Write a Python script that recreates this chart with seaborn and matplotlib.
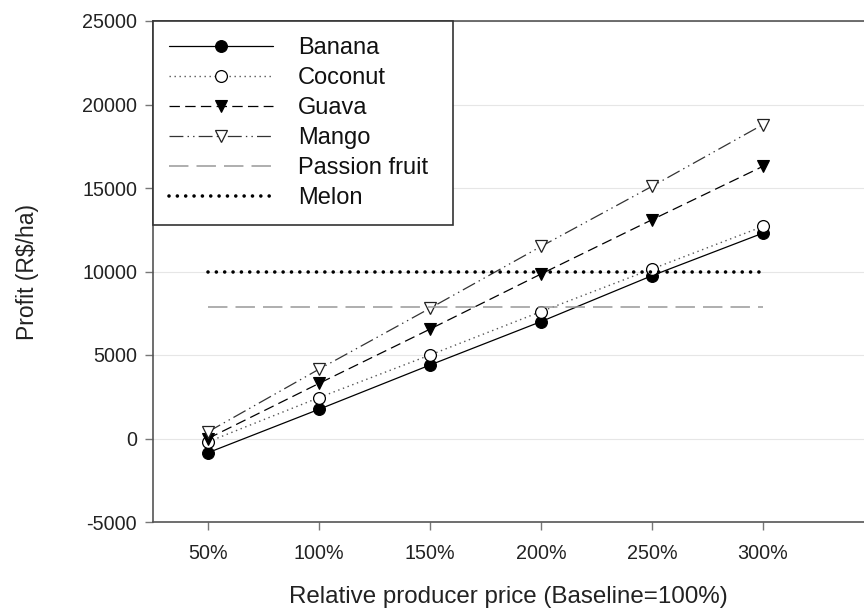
import matplotlib
matplotlib.use("Agg")
import matplotlib.pyplot as plt
import seaborn as sns
import pandas as pd

# ---- data ----
price_pct = [50, 100, 150, 200, 250, 300]
x_tick_labels = ["50%", "100%", "150%", "200%", "250%", "300%"]
y_ticks = [-5000, 0, 5000, 10000, 15000, 20000, 25000]

banana = [-850, 1750, 4400, 7000, 9750, 12300]
coconut = [-200, 2450, 5000, 7600, 10150, 12700]
guava = [0, 3300, 6550, 9850, 13100, 16300]
mango = [400, 4150, 7800, 11500, 15100, 18800]
passion_fruit = [7900, 7900, 7900, 7900, 7900, 7900]
melon = [10000, 10000, 10000, 10000, 10000, 10000]

series = {
    "Banana": banana,
    "Coconut": coconut,
    "Guava": guava,
    "Mango": mango,
    "Passion fruit": passion_fruit,
    "Melon": melon,
}

styles = {
    "Banana": dict(color="black", lw=0.9, ls="-", marker="o", ms=8.5,
                   mfc="black", mec="black", mew=0.8),
    "Coconut": dict(color="#555555", lw=1.0, ls=(0, (1.0, 2.6)), marker="o", ms=8.5,
                    mfc="white", mec="black", mew=0.9),
    "Guava": dict(color="black", lw=0.9, ls=(0, (7.5, 3.8)), marker="v", ms=9,
                  mfc="black", mec="black", mew=0.8),
    "Mango": dict(color="#333333", lw=0.9, ls=(0, (10, 3, 1, 3, 1, 3)), marker="v", ms=9,
                  mfc="white", mec="#222222", mew=0.9),
    "Passion fruit": dict(color="#999999", lw=1.1, ls=(0, (14, 5.8)), marker=None),
    "Melon": dict(color="black", lw=2.6, ls=(0, (0.01, 6.0)), marker=None,
                  dash_capstyle="round"),
}

df = pd.concat(
    [pd.DataFrame({"price": price_pct, "profit": v, "crop": k}) for k, v in series.items()],
    ignore_index=True,
)

sns.set_style("white")
plt.rcParams["font.family"] = ["Liberation Sans", "DejaVu Sans"]
plt.rcParams["lines.scale_dashes"] = False

fig = plt.figure(figsize=(8.64, 6.08), dpi=100)
ax = fig.add_axes([153 / 864, 1 - 522 / 608, 1 - 153 / 864, (522 - 21) / 608])

for name in series:
    sub = df[df["crop"] == name]
    st = dict(styles[name])
    sns.lineplot(data=sub, x="price", y="profit", ax=ax, label=name, **st)

ax.set_xlim(25.2, 345.5)
ax.set_ylim(-5000, 25000)
ax.set_xticks(price_pct)
ax.set_xticklabels(x_tick_labels)
ax.set_yticks(y_ticks)
ax.set_yticklabels([str(v) for v in y_ticks])
ax.yaxis.grid(True, color="#e6e6e6", lw=0.8)
ax.set_axisbelow(True)

ax.tick_params(axis="both", direction="out", length=5.5, width=1.0, color="#777777",
               labelsize=14.2, labelcolor="#222222", bottom=True, left=True)
ax.tick_params(axis="x", pad=10)
ax.tick_params(axis="y", pad=6)
for side in ["left", "bottom", "top"]:
    ax.spines[side].set_visible(True)
    ax.spines[side].set_color("#555555")
    ax.spines[side].set_linewidth(1.2)
ax.spines["right"].set_visible(False)

ax.set_xlabel("Relative producer price (Baseline=100%)", fontsize=17.4, color="#222222", labelpad=17)
ax.set_ylabel("Profit (R$/ha)", fontsize=16.5, color="#222222", labelpad=31)

leg = ax.legend(loc="upper left", bbox_to_anchor=(0, 0, 300 / 711, 1), mode="expand",
                borderaxespad=0, fontsize=17,
                handlelength=4.4, handletextpad=1.05, labelspacing=0.34, borderpad=0.68,
                numpoints=1, fancybox=False, framealpha=1, edgecolor="#333333")
leg.get_frame().set_linewidth(1.2)
for t in leg.get_texts():
    t.set_color("#111111")

fig.savefig("out.png", dpi=100)
